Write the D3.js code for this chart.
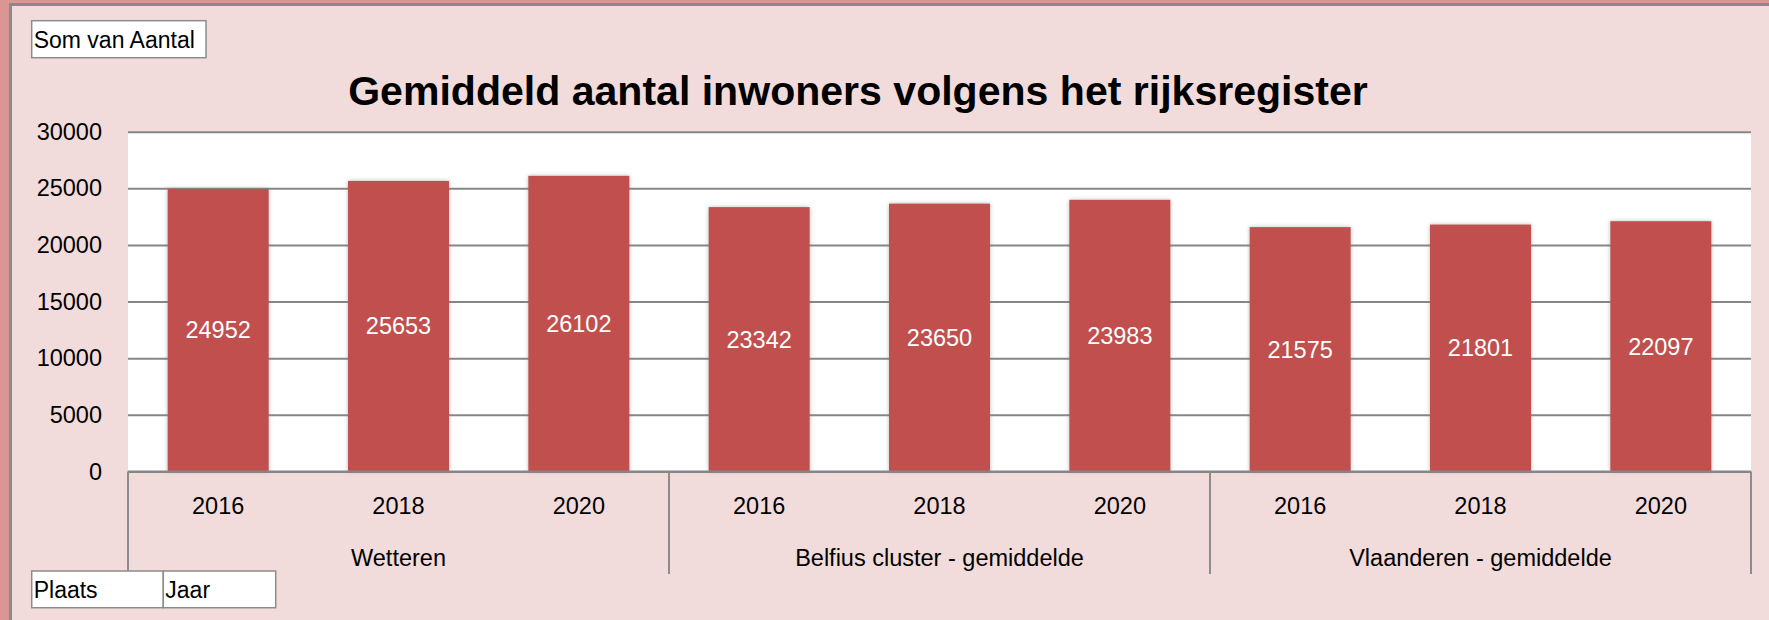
<!DOCTYPE html>
<html>
<head>
<meta charset="utf-8">
<script src="https://cdn.jsdelivr.net/npm/d3@7"></script>
<style>
  html, body { margin: 0; padding: 0; background: #F2DCDB; }
  svg { display: block; }
  text { font-family: "Liberation Sans", Arial, sans-serif; }
</style>
</head>
<body>
<svg id="chart" width="1769" height="620"></svg>
<script>
// ---- data ----
const places = ["Wetteren", "Belfius cluster - gemiddelde", "Vlaanderen - gemiddelde"];
const years = ["2016", "2018", "2020"];
const wetterenValues = [24952, 25653, 26102];
const belfiusValues = [23342, 23650, 23983];
const vlaanderenValues = [21575, 21801, 22097];
const yTicks = [0, 5000, 10000, 15000, 20000, 25000, 30000];
const titleText = "Gemiddeld aantal inwoners volgens het rijksregister";
const valueFieldLabel = "Som van Aantal";
const axisFieldLabels = ["Plaats", "Jaar"];

const seriesByPlace = [wetterenValues, belfiusValues, vlaanderenValues];
const rows = [];
places.forEach((p, pi) => years.forEach((y, yi) => rows.push({ key: p + "|" + y, place: p, year: y, value: seriesByPlace[pi][yi] })));

// ---- layout ----
const W = 1769, H = 620;
const plot = { left: 128, right: 1751, top: 131.7, bottom: 471.5 };

const svg = d3.select("#chart");
const defs = svg.append("defs");
const f = defs.append("filter").attr("id", "shadow").attr("x", "-10%").attr("y", "-5%").attr("width", "120%").attr("height", "110%");
f.append("feDropShadow").attr("dx", 0).attr("dy", 0).attr("stdDeviation", 2).attr("flood-color", "#7f7f7f").attr("flood-opacity", 0.55);

// background + frame
svg.append("rect").attr("x", 0).attr("y", 0).attr("width", W).attr("height", H).attr("fill", "#F2DCDB");
svg.append("rect").attr("x", 0).attr("y", 0).attr("width", 9).attr("height", H).attr("fill", "#DA9694");
svg.append("rect").attr("x", 0).attr("y", 0).attr("width", W).attr("height", 3).attr("fill", "#DA9694");
svg.append("line").attr("x1", 10.5).attr("x2", 10.5).attr("y1", 3).attr("y2", H).attr("stroke", "#8a8a8a").attr("stroke-width", 3);
svg.append("line").attr("x1", 9).attr("x2", W).attr("y1", 4.5).attr("y2", 4.5).attr("stroke", "#8a8a8a").attr("stroke-width", 3);

// plot area
svg.append("rect").attr("x", plot.left).attr("y", plot.top).attr("width", plot.right - plot.left).attr("height", plot.bottom - plot.top).attr("fill", "#ffffff");

const x = d3.scaleBand().domain(rows.map(d => d.key)).range([plot.left, plot.right]).paddingInner(0.44).paddingOuter(0.22);
const xGroup = d3.scaleBand().domain(places).range([plot.left, plot.right]).padding(0);
const y = d3.scaleLinear().domain([0, 30000]).range([plot.bottom, plot.top]);

// gridlines
const grid = svg.append("g").attr("transform", `translate(${plot.left},0)`)
  .call(d3.axisLeft(y).tickValues(yTicks).tickSize(-(plot.right - plot.left)).tickFormat(""));
grid.select(".domain").remove();
grid.selectAll("line").attr("stroke", "#868686").attr("stroke-width", 2);

// y labels
const yAxis = svg.append("g").attr("transform", `translate(${plot.left},0)`)
  .call(d3.axisLeft(y).tickValues(yTicks).tickSize(0).tickPadding(26).tickFormat(d3.format("d")));
yAxis.select(".domain").remove();
yAxis.selectAll("text").attr("font-size", 23.5).attr("fill", "#000").attr("font-family", "Liberation Sans, Arial, sans-serif");

// bars
svg.append("g").selectAll("rect").data(rows).join("rect")
  .attr("x", d => x(d.key)).attr("width", x.bandwidth())
  .attr("y", d => y(d.value)).attr("height", d => y(0) - y(d.value))
  .attr("fill", "#C0504D").attr("filter", "url(#shadow)");

// value labels
svg.append("g").selectAll("text").data(rows).join("text")
  .attr("x", d => x(d.key) + x.bandwidth() / 2)
  .attr("y", d => (y(d.value) + y(0)) / 2)
  .attr("dy", "0.35em").attr("text-anchor", "middle")
  .attr("font-size", 23.5).attr("fill", "#ffffff")
  .text(d => d.value);

// baseline
svg.append("line").attr("x1", plot.left).attr("x2", plot.right).attr("y1", y(0)).attr("y2", y(0)).attr("stroke", "#868686").attr("stroke-width", 2);

// category axis: year labels
svg.append("g").selectAll("text").data(rows).join("text")
  .attr("x", d => x(d.key) + x.bandwidth() / 2).attr("y", 514)
  .attr("text-anchor", "middle").attr("font-size", 23.5).attr("fill", "#000")
  .text(d => d.year);

// group labels
svg.append("g").selectAll("text").data(places).join("text")
  .attr("x", d => xGroup(d) + xGroup.bandwidth() / 2).attr("y", 566)
  .attr("text-anchor", "middle").attr("font-size", 23.5).attr("fill", "#000")
  .text(d => d);

// group dividers
const dividerX = places.map(p => xGroup(p)).concat([xGroup(places[places.length - 1]) + xGroup.bandwidth()]);
svg.append("g").selectAll("line").data(dividerX).join("line")
  .attr("x1", d => d).attr("x2", d => d)
  .attr("y1", y(0)).attr("y2", (d, i) => i === 0 ? 571 : 574)
  .attr("stroke", "#8c8c8c").attr("stroke-width", 2);

// title
const title = svg.append("text").attr("x", 858).attr("y", 105).attr("text-anchor", "middle")
  .attr("font-weight", "bold").attr("font-size", 36).attr("fill", "#000").text(titleText);
const tw = title.node().getComputedTextLength();
title.attr("font-size", 36 * 1020 / tw);

// field buttons
function fieldBox(x0, y0, w, h, label) {
  svg.append("rect").attr("x", x0).attr("y", y0).attr("width", w).attr("height", h)
    .attr("fill", "#ffffff").attr("stroke", "#8c8c8c").attr("stroke-width", 1.5);
  svg.append("text").attr("x", x0 + 2).attr("y", y0 + h - 9.5).attr("font-size", 23).attr("fill", "#000").text(label);
}
fieldBox(31.7, 20.7, 174.3, 37, valueFieldLabel);
fieldBox(31.7, 571, 131.6, 36.7, axisFieldLabels[0]);
fieldBox(163.3, 571, 112.4, 36.7, axisFieldLabels[1]);
</script>
</body>
</html>
